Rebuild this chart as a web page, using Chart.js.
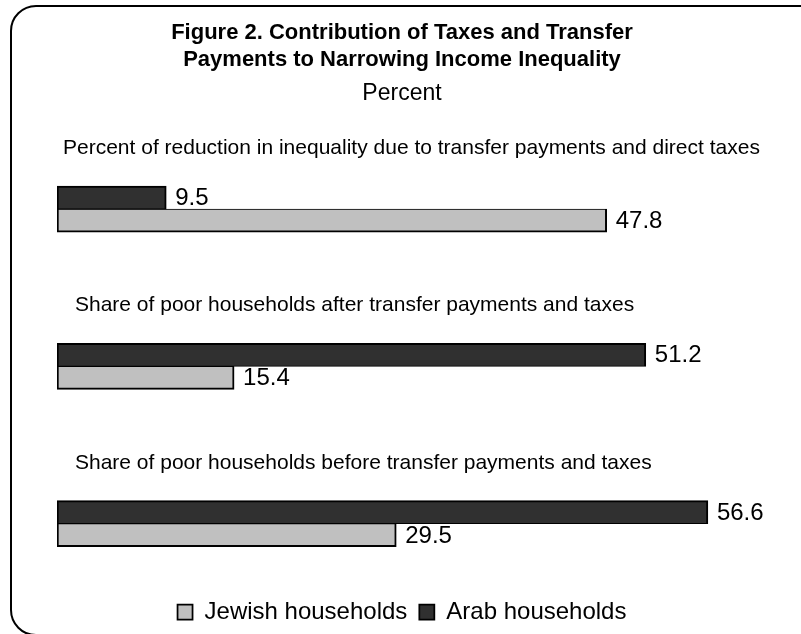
<!DOCTYPE html>
<html>
<head>
<meta charset="utf-8">
<script src="https://cdn.jsdelivr.net/npm/chart.js@4/dist/chart.umd.min.js"></script>
<style>
    html, body { margin: 0; padding: 0; background: #fff; overflow: hidden; }
    #frame {
        position: absolute; left: 10px; top: 5px;
        width: 830px; height: 627px;
        border: 2px solid #000; border-radius: 26px;
    }
    #chart { position: absolute; left: 0; top: 0; }
</style>
</head>
<body>
<div id="frame"></div>
<canvas id="chart" width="801" height="634"></canvas>
<script>
const CATEGORIES = [
    'Percent of reduction in inequality due to transfer payments and direct taxes',
    'Share of poor households after transfer payments and taxes',
    'Share of poor households before transfer payments and taxes',
];
const ARAB = [9.5, 51.2, 56.6];
const JEWISH = [47.8, 15.4, 29.5];

const FONT = 'Arial, "Liberation Sans", sans-serif';
Chart.defaults.font.family = FONT;
Chart.defaults.color = '#000';

// category captions sit above each pair of bars
const groupLabels = {
    id: 'groupLabels',
    afterDatasetsDraw(chart, args, opts) {
        const {ctx, scales: {y}} = chart;
        ctx.save();
        ctx.font = `${opts.size}px ${FONT}`;
        ctx.fillStyle = '#000';
        ctx.textBaseline = 'alphabetic';
        ctx.textAlign = 'left';
        CATEGORIES.forEach((c, i) => {
            ctx.fillText(c, opts.x[i], y.getPixelForValue(i) - opts.lift);
        });
        ctx.restore();
    }
};

// numbers at the end of the bars
const valueLabels = {
    id: 'valueLabels',
    afterDatasetsDraw(chart, args, opts) {
        const {ctx} = chart;
        ctx.save();
        ctx.font = `${opts.size}px ${FONT}`;
        ctx.fillStyle = '#000';
        ctx.textBaseline = 'middle';
        ctx.textAlign = 'left';
        chart.data.datasets.forEach((ds, d) => {
            chart.getDatasetMeta(d).data.forEach((bar, i) => {
                ctx.fillText(ds.data[i].x.toFixed(1), bar.x + 9, bar.y + 1);
            });
        });
        ctx.restore();
    }
};

new Chart(document.getElementById('chart'), {
    type: 'bar',
    data: {
        datasets: [
            {
                label: 'Arab households',
                data: ARAB.map((v, i) => ({x: v, y: i})),
                backgroundColor: '#303030',
                borderColor: '#000',
                borderWidth: {top: 2, left: 2, right: 2, bottom: 1},
                borderSkipped: false,
            },
            {
                label: 'Jewish households',
                data: JEWISH.map((v, i) => ({x: v, y: i})),
                backgroundColor: '#c0c0c0',
                borderColor: '#000',
                borderWidth: {top: 1, left: 2, right: 2, bottom: 2},
                borderSkipped: false,
            },
        ]
    },
    options: {
        indexAxis: 'y',
        responsive: false,
        animation: false,
        barThickness: 23,
        layout: {
            padding: {left: 57, right: 54, top: 0, bottom: 0}
        },
        scales: {
            x: {display: false, min: 0, max: 60},
            y: {display: false, type: 'linear', offset: false, reverse: true, min: -0.5, max: 2.41},
        },
        plugins: {
            title: {
                display: true,
                text: ['Figure 2. Contribution of Taxes and Transfer', 'Payments to Narrowing Income Inequality'],
                font: {size: 22, weight: 'bold', lineHeight: 1.25},
                color: '#000',
                padding: {top: 19, bottom: 0},
            },
            subtitle: {
                display: true,
                text: 'Percent',
                font: {size: 23, lineHeight: 1.2},
                color: '#000',
                padding: {top: 6, bottom: 23},
            },
            legend: {
                position: 'bottom',
                reverse: true,
                labels: {
                    font: {size: 24},
                    color: '#000',
                    boxWidth: 15,
                    boxHeight: 15,
                    padding: 12,
                }
            },
            tooltip: {enabled: false},
            groupLabels: {size: 21, lift: 55, x: [63, 75, 75]},
            valueLabels: {size: 24},
        }
    },
    plugins: [groupLabels, valueLabels]
});
</script>
</body>
</html>
